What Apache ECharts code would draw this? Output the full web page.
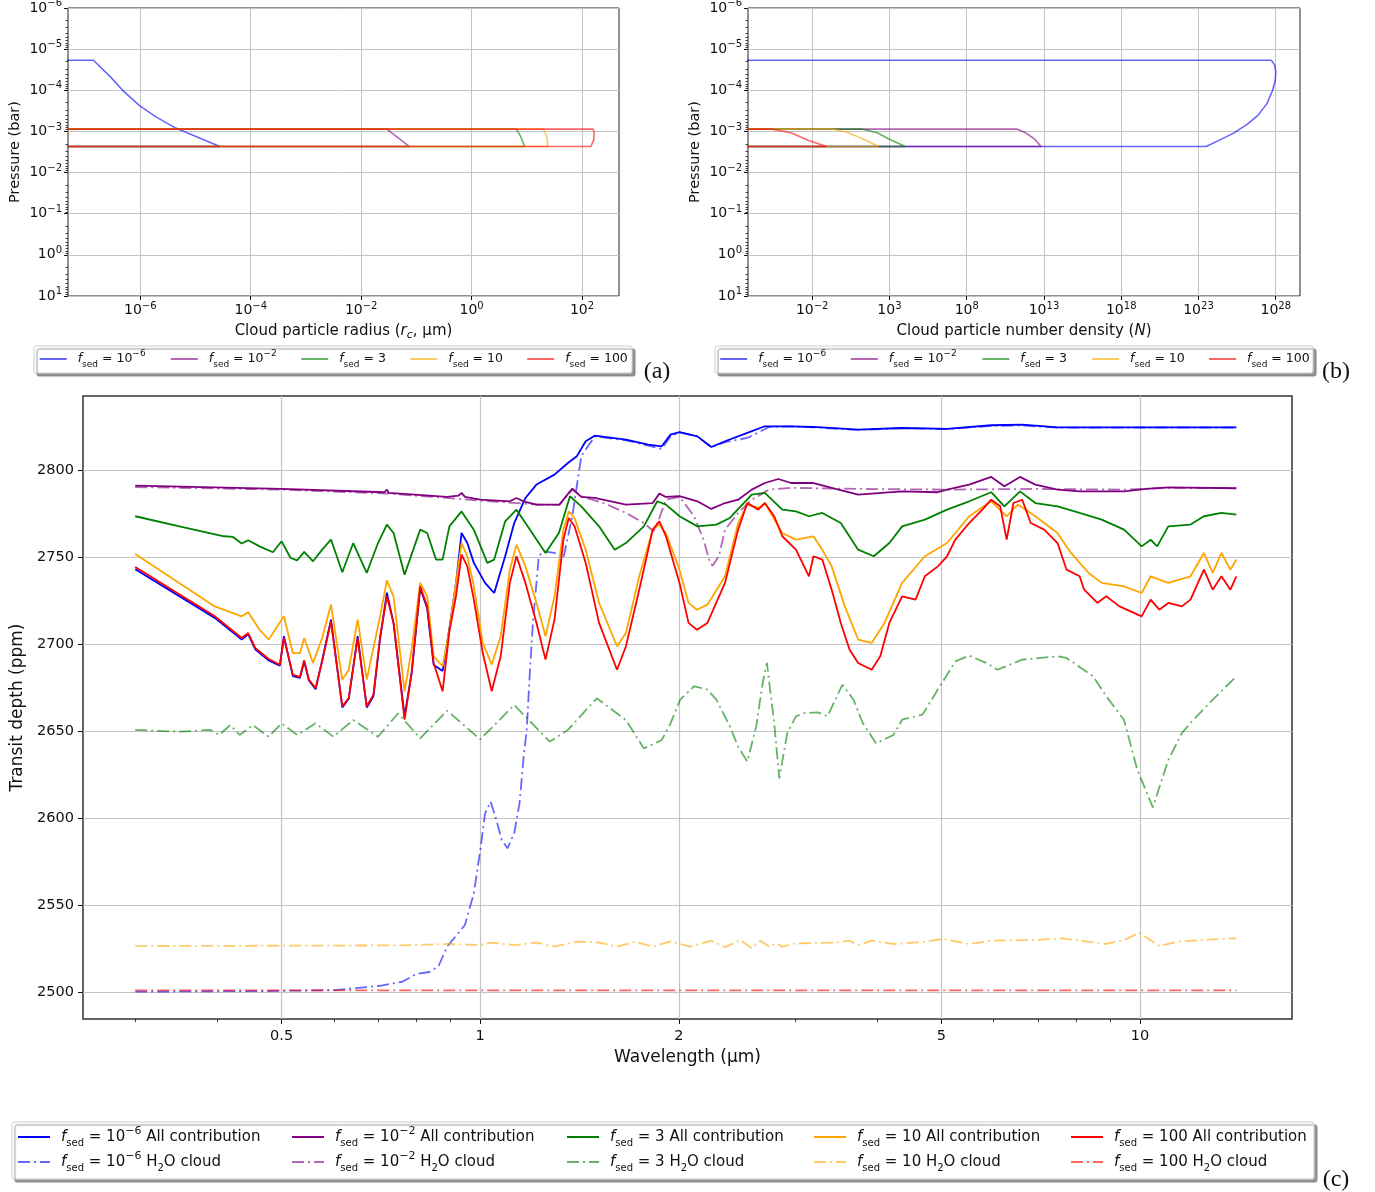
<!DOCTYPE html>
<html>
<head>
<meta charset="utf-8">
<title>Cloud profiles and transmission spectra</title>
<script src="https://cdn.jsdelivr.net/npm/echarts@6/dist/echarts.min.js"></script>
<style>
  html, body { margin: 0; padding: 0; background: #ffffff; }
  #chart { width: 1375px; height: 1192px; }
</style>
</head>
<body>
<div id="chart"></div>
<script>
// ---------------------------------------------------------------------------
// Settling efficiencies shown in every panel
// ---------------------------------------------------------------------------
const fsedPlain = ['10^-6', '10^-2', '3', '10', '100'];
const fsedRich  = ['10{sup|−6}', '10{sup|−2}', '3', '10', '100'];

// "No cloud" value: sits left of both profile axes
const NO_CLOUD = 1e-9;

// (a) cloud particle radius [µm, bar]
const radius_1em6 = [[NO_CLOUD, 1.86e-5], [1.41e-7, 1.86e-5], [2.88e-7, 4.72e-5], [4.79e-7, 1.0e-4], [9.55e-7, 2.32e-4], [1.86e-6, 4.31e-4], [4.37e-6, 8.29e-4], [1.02e-5, 1.32e-3], [2.75e-5, 2.32e-3], [NO_CLOUD, 2.32e-3]];
const radius_1em2 = [[NO_CLOUD, 8.77e-4], [0.0292, 8.77e-4], [0.0741, 2.32e-3], [NO_CLOUD, 2.32e-3]];
const radius_3    = [[NO_CLOUD, 8.77e-4], [6.46, 8.77e-4], [7.55, 1.25e-3], [8.3, 1.66e-3], [9.12, 2.32e-3], [NO_CLOUD, 2.32e-3]];
const radius_10   = [[NO_CLOUD, 8.77e-4], [20.0, 8.77e-4], [23.2, 1.38e-3], [24.0, 2.32e-3], [NO_CLOUD, 2.32e-3]];
const radius_100  = [[NO_CLOUD, 8.77e-4], [158, 8.77e-4], [166, 1.05e-3], [163, 1.6e-3], [145, 2.32e-3], [NO_CLOUD, 2.32e-3]];

// (b) cloud particle number density [N, bar]
const density_1em6 = [[NO_CLOUD, 1.86e-5], [5.13e27, 1.86e-5], [8.71e27, 2.45e-5], [1.0e28, 3.55e-5], [9.33e27, 5.69e-5], [6.31e27, 1.0e-4], [2.69e27, 2.11e-4], [7.08e26, 4.07e-4], [1.38e26, 6.76e-4], [1.91e25, 1.10e-3], [2.63e24, 1.58e-3], [3.16e23, 2.32e-3], [NO_CLOUD, 2.32e-3]];
const density_1em2 = [[NO_CLOUD, 8.77e-4], [1.74e11, 8.77e-4], [6.5e11, 1.08e-3], [2.4e12, 1.51e-3], [6.5e12, 2.32e-3], [NO_CLOUD, 2.32e-3]];
const density_3    = [[NO_CLOUD, 8.77e-4], [16, 8.77e-4], [162, 1.08e-3], [851, 1.51e-3], [1.05e4, 2.32e-3], [NO_CLOUD, 2.32e-3]];
const density_10   = [[NO_CLOUD, 8.77e-4], [0.224, 8.77e-4], [2.24, 1.08e-3], [31.6, 1.66e-3], [200, 2.32e-3], [NO_CLOUD, 2.32e-3]];
const density_100  = [[NO_CLOUD, 8.77e-4], [2.19e-5, 8.77e-4], [4.17e-4, 1.08e-3], [5.9e-3, 1.66e-3], [0.083, 2.32e-3], [NO_CLOUD, 2.32e-3]];

// (c) transit depth [wavelength µm, ppm]
const all_1em6 = [[0.30,2743.0],[0.396,2715.0],[0.435,2702.5],[0.445,2705.5],[0.456,2697.0],[0.478,2690.5],[0.497,2687.5],[0.504,2704.5],[0.520,2681.5],[0.533,2680.5],[0.541,2690.0],[0.550,2679.0],[0.563,2674.0],[0.576,2690.5],[0.594,2714.0],[0.618,2663.5],[0.632,2668.5],[0.652,2704.5],[0.673,2663.5],[0.689,2670.0],[0.705,2703.0],[0.722,2729.5],[0.739,2712.0],[0.768,2658.5],[0.787,2683.0],[0.811,2732.0],[0.831,2720.5],[0.850,2688.0],[0.877,2684.5],[0.898,2709.0],[0.919,2735.0],[0.937,2763.8],[0.956,2758.0],[0.978,2746.6],[1.017,2735.1],[1.050,2729.3],[1.091,2750.4],[1.126,2769.5],[1.171,2783.9],[1.217,2791.6],[1.296,2797.3],[1.358,2804.0],[1.401,2807.9],[1.445,2816.5],[1.491,2819.7],[1.663,2817.4],[1.798,2814.6],[1.884,2813.6],[1.943,2820.3],[2.005,2821.8],[2.134,2819.3],[2.24,2813.2],[2.35,2816.5],[2.54,2821.3],[2.70,2825.1],[2.96,2825.1],[3.20,2824.7],[3.74,2823.2],[4.36,2824.1],[5.10,2823.6],[5.95,2825.7],[6.63,2826.1],[7.50,2824.5],[9.46,2824.5],[14.0,2824.5]];
const cloud_1em6 = [[0.30,2500.2],[0.478,2500.6],[0.603,2501.1],[0.705,2503.6],[0.762,2505.9],[0.799,2510.3],[0.837,2511.5],[0.864,2514.6],[0.891,2526.1],[0.948,2538.5],[0.978,2556.7],[1.002,2583.5],[1.017,2602.7],[1.037,2609.4],[1.058,2598.9],[1.078,2587.4],[1.100,2582.6],[1.126,2591.2],[1.147,2608.4],[1.165,2637.2],[1.176,2650.0],[1.189,2683.3],[1.202,2712.1],[1.227,2750.4],[1.246,2753.3],[1.296,2752.3],[1.337,2749.4],[1.379,2773.4],[1.423,2807.9],[1.491,2819.3],[1.663,2817.0],[1.798,2814.0],[1.884,2812.1],[1.943,2819.3],[2.005,2821.6],[2.134,2819.3],[2.24,2813.0],[2.35,2816.0],[2.54,2818.4],[2.66,2822.2],[2.74,2824.7],[2.96,2825.0],[3.20,2824.5],[3.74,2823.0],[4.36,2824.0],[5.10,2823.5],[5.95,2825.3],[6.63,2825.6],[7.50,2824.3],[9.46,2824.4],[14.0,2824.4]];
const all_1em2 = [[0.30,2791.0],[0.50,2789.1],[0.716,2787.2],[0.722,2788.7],[0.727,2786.8],[0.891,2784.5],[0.927,2785.2],[0.937,2786.8],[0.948,2784.5],[1.0,2782.9],[1.109,2782.0],[1.135,2783.9],[1.162,2782.0],[1.217,2780.1],[1.318,2780.1],[1.379,2789.3],[1.423,2784.5],[1.491,2783.9],[1.663,2780.1],[1.826,2781.0],[1.869,2786.4],[1.912,2784.5],[2.005,2784.9],[2.134,2782.0],[2.24,2777.6],[2.35,2781.0],[2.46,2782.9],[2.58,2788.7],[2.70,2792.5],[2.83,2794.8],[2.96,2792.5],[3.20,2792.5],[3.41,2789.7],[3.74,2785.8],[4.36,2787.7],[4.94,2787.2],[5.10,2788.7],[5.51,2791.6],[5.95,2796.0],[6.23,2790.6],[6.58,2796.0],[6.94,2791.6],[7.50,2788.7],[8.10,2787.7],[9.46,2787.7],[10.22,2789.1],[11.04,2790.0],[14.0,2789.5]];
const cloud_1em2 = [[0.30,2790.2],[0.50,2788.7],[0.727,2786.4],[0.891,2783.9],[1.0,2782.4],[1.217,2780.1],[1.318,2779.9],[1.379,2788.7],[1.423,2784.9],[1.538,2781.0],[1.663,2775.3],[1.770,2769.5],[1.832,2764.8],[1.869,2772.4],[1.912,2782.9],[2.005,2784.5],[2.11,2773.4],[2.18,2760.0],[2.23,2746.6],[2.25,2745.0],[2.30,2750.4],[2.35,2765.7],[2.46,2775.3],[2.58,2782.9],[2.74,2788.7],[2.96,2789.7],[3.74,2789.1],[5.10,2788.7],[6.94,2789.1],[9.46,2788.7],[11.04,2789.7],[14.0,2789.5]];
const all_3 = [[0.30,2773.4],[0.350,2767.6],[0.409,2761.9],[0.422,2761.5],[0.435,2757.7],[0.445,2759.6],[0.463,2756.1],[0.485,2752.7],[0.500,2759.0],[0.516,2749.4],[0.528,2748.1],[0.541,2752.9],[0.558,2747.5],[0.576,2754.2],[0.594,2760.0],[0.618,2741.2],[0.642,2758.0],[0.673,2740.8],[0.700,2758.0],[0.722,2768.6],[0.739,2763.8],[0.768,2739.8],[0.811,2765.7],[0.831,2763.8],[0.857,2748.5],[0.877,2748.5],[0.898,2767.6],[0.937,2776.2],[0.978,2765.7],[1.025,2746.6],[1.050,2748.5],[1.091,2770.5],[1.135,2777.2],[1.180,2767.6],[1.256,2752.3],[1.316,2763.8],[1.368,2784.9],[1.423,2779.1],[1.514,2767.6],[1.599,2754.2],[1.663,2758.0],[1.770,2767.6],[1.855,2782.0],[1.912,2780.1],[2.005,2773.4],[2.134,2767.6],[2.28,2768.6],[2.39,2772.4],[2.58,2785.8],[2.70,2786.8],[2.87,2777.2],[3.01,2776.2],[3.15,2773.4],[3.30,2775.3],[3.52,2769.5],[3.74,2754.2],[3.95,2750.4],[4.17,2758.0],[4.36,2767.6],[4.72,2771.5],[5.10,2777.2],[5.51,2782.0],[5.95,2787.2],[6.23,2779.1],[6.58,2787.7],[6.94,2781.0],[7.50,2779.1],[8.10,2775.3],[8.75,2771.5],[9.46,2765.7],[10.06,2756.1],[10.38,2759.9],[10.62,2756.1],[11.04,2767.6],[11.93,2768.6],[12.50,2773.4],[13.29,2775.3],[14.0,2774.3]];
const cloud_3 = [[0.30,2650.6],[0.350,2649.6],[0.390,2650.6],[0.402,2647.7],[0.418,2653.4],[0.432,2647.7],[0.452,2653.4],[0.478,2646.7],[0.500,2654.4],[0.528,2647.7],[0.563,2654.4],[0.599,2646.7],[0.642,2656.3],[0.700,2646.7],[0.751,2660.2],[0.811,2645.8],[0.891,2661.7],[1.000,2645.2],[1.126,2664.9],[1.275,2643.9],[1.358,2650.6],[1.502,2668.8],[1.663,2656.3],[1.770,2640.0],[1.884,2644.8],[1.943,2654.4],[2.01,2668.0],[2.11,2675.7],[2.21,2673.8],[2.28,2668.0],[2.39,2652.7],[2.46,2641.0],[2.54,2632.4],[2.62,2652.5],[2.68,2677.6],[2.72,2689.1],[2.79,2654.6],[2.84,2622.8],[2.92,2648.7],[3.01,2658.4],[3.10,2660.3],[3.25,2660.7],[3.36,2658.4],[3.54,2676.6],[3.68,2668.0],[3.80,2654.6],[3.98,2642.9],[4.23,2647.7],[4.36,2656.5],[4.68,2659.4],[4.94,2673.8],[5.25,2690.0],[5.51,2693.3],[5.85,2689.1],[6.08,2685.2],[6.63,2691.0],[7.50,2692.9],[7.74,2692.0],[8.49,2681.4],[8.89,2670.0],[9.46,2656.3],[9.91,2627.6],[10.46,2606.1],[11.04,2633.3],[11.57,2648.7],[11.93,2654.6],[12.89,2668.0],[14.0,2681.4]];
const all_10 = [[0.30,2751.7],[0.396,2721.6],[0.435,2715.9],[0.445,2718.2],[0.463,2708.2],[0.478,2702.5],[0.504,2715.9],[0.520,2694.8],[0.533,2694.8],[0.541,2703.4],[0.558,2689.1],[0.576,2703.4],[0.594,2722.6],[0.618,2679.5],[0.632,2685.2],[0.652,2714.0],[0.673,2679.5],[0.705,2715.9],[0.722,2736.6],[0.739,2727.4],[0.768,2672.8],[0.787,2696.7],[0.811,2735.1],[0.831,2727.4],[0.850,2692.9],[0.877,2687.2],[0.898,2708.2],[0.937,2758.0],[0.956,2750.4],[0.978,2733.1],[1.009,2700.6],[1.041,2688.1],[1.074,2704.4],[1.109,2742.7],[1.135,2757.1],[1.171,2744.6],[1.217,2723.6],[1.256,2704.4],[1.296,2727.4],[1.337,2765.7],[1.362,2776.2],[1.390,2772.4],[1.445,2754.2],[1.514,2723.6],[1.612,2698.7],[1.663,2706.3],[1.742,2738.9],[1.826,2765.7],[1.869,2768.6],[1.912,2763.8],[2.005,2742.7],[2.069,2723.6],[2.13,2719.7],[2.21,2722.6],[2.35,2738.9],[2.46,2769.5],[2.54,2780.1],[2.64,2778.2],[2.70,2781.0],[2.87,2763.8],[3.01,2760.0],[3.20,2761.9],[3.30,2754.2],[3.41,2744.6],[3.57,2721.6],[3.74,2702.5],[3.92,2700.6],[4.10,2712.1],[4.36,2735.1],[4.72,2750.4],[5.10,2758.0],[5.51,2773.4],[5.95,2782.0],[6.28,2773.4],[6.53,2780.1],[6.94,2773.4],[7.50,2763.8],[7.86,2752.3],[8.36,2740.8],[8.75,2735.1],[9.46,2733.1],[10.06,2729.3],[10.38,2738.9],[11.04,2735.1],[11.93,2738.9],[12.50,2752.3],[12.89,2740.8],[13.29,2752.3],[13.71,2742.7],[14.0,2748.5]];
const cloud_10 = [[0.30,2526.4],[0.478,2526.6],[0.762,2526.8],[0.891,2527.6],[1.0,2527.0],[1.041,2528.4],[1.126,2527.0],[1.217,2528.4],[1.296,2526.1],[1.401,2529.0],[1.514,2528.4],[1.612,2526.1],[1.716,2529.0],[1.826,2526.1],[1.943,2529.1],[2.08,2526.1],[2.24,2529.5],[2.35,2525.7],[2.48,2529.9],[2.58,2525.1],[2.66,2529.5],[2.74,2526.1],[2.81,2528.0],[2.87,2526.1],[3.01,2528.0],[3.46,2528.4],[3.63,2529.5],[3.74,2527.0],[3.92,2529.5],[4.23,2527.6],[4.72,2528.9],[5.02,2530.5],[5.51,2527.6],[5.95,2529.5],[6.94,2529.9],[7.62,2530.8],[8.89,2527.6],[9.46,2529.9],[9.98,2534.1],[10.70,2526.4],[11.39,2528.9],[12.89,2530.3],[14.0,2530.8]];
const all_100 = [[0.30,2744.3],[0.396,2715.9],[0.435,2703.4],[0.445,2706.3],[0.456,2697.7],[0.478,2691.4],[0.497,2688.1],[0.504,2703.4],[0.520,2682.4],[0.533,2681.0],[0.541,2690.6],[0.550,2679.5],[0.563,2674.7],[0.576,2690.0],[0.594,2713.0],[0.618,2664.2],[0.632,2669.0],[0.652,2703.4],[0.673,2664.2],[0.689,2670.9],[0.705,2704.0],[0.722,2727.4],[0.739,2712.1],[0.768,2656.5],[0.787,2683.3],[0.811,2733.1],[0.831,2721.6],[0.850,2689.1],[0.877,2672.8],[0.898,2707.3],[0.919,2727.4],[0.937,2751.3],[0.956,2744.6],[0.978,2725.5],[1.009,2694.8],[1.041,2672.8],[1.074,2692.9],[1.109,2735.1],[1.135,2750.4],[1.171,2735.1],[1.217,2712.1],[1.256,2691.0],[1.296,2714.0],[1.337,2760.0],[1.362,2772.4],[1.390,2767.6],[1.445,2746.6],[1.514,2712.1],[1.612,2685.2],[1.663,2698.7],[1.742,2731.2],[1.826,2765.7],[1.869,2770.5],[1.912,2761.9],[2.005,2735.1],[2.069,2712.1],[2.13,2708.2],[2.21,2712.1],[2.35,2735.1],[2.46,2765.7],[2.54,2781.0],[2.64,2777.2],[2.70,2781.0],[2.79,2773.4],[2.87,2761.9],[3.01,2754.2],[3.15,2738.9],[3.20,2750.4],[3.30,2748.5],[3.41,2731.2],[3.52,2712.1],[3.63,2696.7],[3.74,2689.1],[3.92,2685.2],[4.04,2692.9],[4.17,2712.1],[4.36,2727.4],[4.57,2725.5],[4.72,2738.9],[4.94,2744.6],[5.10,2750.4],[5.25,2760.0],[5.51,2769.5],[5.77,2777.2],[5.95,2782.9],[6.14,2779.1],[6.28,2760.0],[6.43,2781.0],[6.63,2782.9],[6.83,2769.5],[7.16,2765.7],[7.50,2758.0],[7.74,2742.7],[8.10,2738.9],[8.23,2731.2],[8.62,2723.6],[8.89,2727.4],[9.31,2721.6],[10.06,2715.9],[10.38,2725.5],[10.70,2719.7],[11.04,2723.6],[11.57,2721.6],[11.93,2725.5],[12.50,2742.7],[12.89,2731.2],[13.29,2738.9],[13.71,2731.2],[14.0,2738.9]];
const cloud_100 = [[0.30,2500.9],[14.0,2500.9]];

const radiusProfiles  = [radius_1em6, radius_1em2, radius_3, radius_10, radius_100];
const densityProfiles = [density_1em6, density_1em2, density_3, density_10, density_100];
const spectraAll   = [all_1em6, all_1em2, all_3, all_10, all_100];
const spectraCloud = [cloud_1em6, cloud_1em2, cloud_3, cloud_10, cloud_100];

// Tick positions
const pressureTicks   = [1e-6, 1e-5, 1e-4, 1e-3, 1e-2, 1e-1, 1, 10];
const radiusTicks     = [1e-6, 1e-4, 1e-2, 1, 100];
const densityTicks    = [1e-2, 1e3, 1e8, 1e13, 1e18, 1e23, 1e28];
const wavelengthTicks = [0.5, 1, 2, 5, 10];
const wavelengthMinorTicks = [0.3, 0.4, 0.6, 0.7, 0.8, 0.9, 3, 4, 6, 7, 8, 9];
const depthTicks      = [2500, 2550, 2600, 2650, 2700, 2750, 2800];
const pressureMinorTicks = [];
for (let e = -6; e < 1; e++) for (let m = 2; m <= 9; m++) pressureMinorTicks.push(m * Math.pow(10, e));

// ---------------------------------------------------------------------------
// Styling
// ---------------------------------------------------------------------------
const FONT = 'DejaVu Sans';
const INK = '#111111';
const GRIDLINE = '#c4c4c4';
const solidColors = ['#0000ff', '#800080', '#008000', '#ffa500', '#ff0000'];
const fadedColors = ['rgba(0,0,255,0.6)', 'rgba(128,0,128,0.6)', 'rgba(0,128,0,0.6)', 'rgba(255,165,0,0.6)', 'rgba(255,0,0,0.6)'];
const DASH_DOT = [12, 4, 2, 4];

const profileName = k => 'fsed = ' + fsedPlain[k];
const allName     = k => 'fsed = ' + fsedPlain[k] + ' All contribution';
const cloudName   = k => 'fsed = ' + fsedPlain[k] + ' H2O cloud';

const legendText = {};
fsedPlain.forEach((p, k) => {
  legendText[profileName(k)] = '{i|f}{sub|sed} = ' + fsedRich[k];
  legendText[allName(k)]     = '{i|f}{sub|sed} = ' + fsedRich[k] + ' All contribution';
  legendText[cloudName(k)]   = '{i|f}{sub|sed} = ' + fsedRich[k] + ' H{sub|2}O cloud';
});

function richSet(fs, lh) {
  return {
    i:   { fontFamily: FONT, fontSize: fs, fontStyle: 'italic', color: INK, lineHeight: lh },
    sub: { fontFamily: FONT, fontSize: Math.round(fs * 0.68), color: INK, verticalAlign: 'bottom' },
    sup: { fontFamily: FONT, fontSize: Math.round(fs * 0.7), color: INK, verticalAlign: 'top' },
    isub: { fontFamily: FONT, fontSize: Math.round(fs * 0.7), fontStyle: 'italic', color: INK, verticalAlign: 'bottom' }
  };
}

function pow10Label(v) {
  const e = Math.round(Math.log10(v));
  return '10{sup|' + (e < 0 ? '−' : '') + Math.abs(e) + '}';
}

// ---------------------------------------------------------------------------
// Axes
// ---------------------------------------------------------------------------
function profileYAxis(gridIndex) {
  return [{
    type: 'log', gridIndex, inverse: true, min: 1e-6, max: 10,
    axisLine: { show: false },
    axisTick: { show: true, length: 4, customValues: pressureTicks, lineStyle: { color: INK, width: 1 } },
    axisLabel: {
      customValues: pressureTicks, formatter: pow10Label, margin: 6,
      fontFamily: FONT, fontSize: 14, color: INK, lineHeight: 19, rich: richSet(14, 19)
    },
    splitLine: { show: true, lineStyle: { color: GRIDLINE, width: 1 } },
    name: 'Pressure (bar)', nameLocation: 'middle', nameGap: 45,
    nameTextStyle: { fontFamily: FONT, fontSize: 14.5, color: INK }
  }, {
    type: 'log', gridIndex, inverse: true, min: 1e-6, max: 10, position: 'left',
    axisLine: { show: false },
    axisTick: { show: true, length: 2.5, customValues: pressureMinorTicks, lineStyle: { color: INK, width: 0.8 } },
    axisLabel: { show: false },
    splitLine: { show: false }
  }];
}

const xAxes = [
  {
    type: 'log', gridIndex: 0, min: Math.pow(10, -7.31), max: Math.pow(10, 2.67),
    axisLine: { show: false },
    axisTick: { show: true, length: 4, customValues: radiusTicks, lineStyle: { color: INK, width: 1 } },
    axisLabel: {
      customValues: radiusTicks, formatter: pow10Label, margin: 5,
      fontFamily: FONT, fontSize: 14, color: INK, lineHeight: 19, rich: richSet(14, 19)
    },
    splitLine: { show: true, lineStyle: { color: GRIDLINE, width: 1 } },
    name: 'Cloud particle radius ({i|r}{isub|c}, µm)', nameLocation: 'middle', nameGap: 24,
    nameTextStyle: { fontFamily: FONT, fontSize: 15, color: INK, lineHeight: 20, rich: richSet(15, 20) }
  },
  {
    type: 'log', gridIndex: 1, min: Math.pow(10, -6.155), max: Math.pow(10, 29.57),
    axisLine: { show: false },
    axisTick: { show: true, length: 4, customValues: densityTicks, lineStyle: { color: INK, width: 1 } },
    axisLabel: {
      customValues: densityTicks, formatter: pow10Label, margin: 5,
      fontFamily: FONT, fontSize: 14, color: INK, lineHeight: 19, rich: richSet(14, 19)
    },
    splitLine: { show: true, lineStyle: { color: GRIDLINE, width: 1 } },
    name: 'Cloud particle number density ({i|N})', nameLocation: 'middle', nameGap: 24,
    nameTextStyle: { fontFamily: FONT, fontSize: 15, color: INK, lineHeight: 20, rich: richSet(15, 20) }
  },
  {
    type: 'log', gridIndex: 2, min: 0.25, max: 17.0, position: 'bottom',
    axisLine: { show: false },
    axisTick: { show: true, length: 5, customValues: wavelengthTicks, lineStyle: { color: INK, width: 1 } },
    axisLabel: {
      customValues: wavelengthTicks, margin: 10,
      formatter: v => String(+(+v).toPrecision(3)),
      fontFamily: FONT, fontSize: 14.5, color: INK
    },
    splitLine: { show: true, lineStyle: { color: GRIDLINE, width: 1.2 } },
    name: 'Wavelength (µm)', nameLocation: 'middle', nameGap: 30,
    nameTextStyle: { fontFamily: FONT, fontSize: 17, color: INK }
  },
  {
    type: 'log', gridIndex: 2, min: 0.25, max: 17.0, position: 'bottom',
    axisLine: { show: false },
    axisTick: { show: true, length: 3, customValues: wavelengthMinorTicks, lineStyle: { color: INK, width: 0.8 } },
    axisLabel: { show: false },
    splitLine: { show: false }
  }
];

const yAxes = [
  ...profileYAxis(0),
  ...profileYAxis(1),
  {
    type: 'value', gridIndex: 2, min: 2484.5, max: 2842.5,
    axisLine: { show: false },
    axisTick: { show: true, length: 5, customValues: depthTicks, lineStyle: { color: INK, width: 1 } },
    axisLabel: {
      customValues: depthTicks, margin: 9, formatter: v => String(Math.round(v)),
      fontFamily: FONT, fontSize: 14.5, color: INK
    },
    splitLine: { show: true, lineStyle: { color: GRIDLINE, width: 1.2 } },
    name: 'Transit depth (ppm)', nameLocation: 'middle', nameGap: 56,
    nameTextStyle: { fontFamily: FONT, fontSize: 17, color: INK }
  }
];

// ---------------------------------------------------------------------------
// Series
// ---------------------------------------------------------------------------
const series = [];
radiusProfiles.forEach((d, k) => series.push({
  type: 'line', name: profileName(k), xAxisIndex: 0, yAxisIndex: 0, data: d,
  symbol: 'none', showSymbol: false, clip: true, color: fadedColors[k],
  lineStyle: { color: fadedColors[k], width: 1.6 }, z: 2 + k
}));
densityProfiles.forEach((d, k) => series.push({
  type: 'line', name: profileName(k), xAxisIndex: 1, yAxisIndex: 2, data: d,
  symbol: 'none', showSymbol: false, clip: true, color: fadedColors[k],
  lineStyle: { color: fadedColors[k], width: 1.6 }, z: 2 + k
}));
spectraAll.forEach((d, k) => {
  series.push({
    type: 'line', name: allName(k), xAxisIndex: 2, yAxisIndex: 4, data: d,
    symbol: 'none', showSymbol: false, clip: true, color: solidColors[k],
    lineStyle: { color: solidColors[k], width: 1.8 }, z: 2 + 2 * k
  });
  series.push({
    type: 'line', name: cloudName(k), xAxisIndex: 2, yAxisIndex: 4, data: spectraCloud[k],
    symbol: 'none', showSymbol: false, clip: true, color: fadedColors[k],
    lineStyle: { color: fadedColors[k], width: 1.8, type: DASH_DOT }, z: 3 + 2 * k
  });
});

// ---------------------------------------------------------------------------
// Legends: one per column so the columns line up
// ---------------------------------------------------------------------------
function legendBlock(left, top, names, opts) {
  return {
    left, top, orient: 'vertical', padding: 0, itemGap: opts.gap,
    itemWidth: opts.iw, itemHeight: 12, selectedMode: false,
    itemStyle: { opacity: 0, borderWidth: 0 },
    data: names,
    formatter: n => legendText[n],
    textStyle: {
      fontFamily: FONT, fontSize: opts.fs, color: INK, lineHeight: opts.lh,
      padding: [0, 0, 0, opts.pad], rich: richSet(opts.fs, opts.lh)
    }
  };
}
const legends = [];
const smallLegend = { fs: 12.5, lh: 20, iw: 27, pad: 6, gap: 0 };
[38.7, 169.8, 300.2, 409.3, 526.2].forEach((x, k) => legends.push(legendBlock(x, 349, [profileName(k)], smallLegend)));
[719.2, 849.8, 981.3, 1091.1, 1208.0].forEach((x, k) => legends.push(legendBlock(x, 349, [profileName(k)], smallLegend)));
const bigLegend = { fs: 15, lh: 22, iw: 32, pad: 6, gap: 3 };
[17, 291, 566, 813, 1070].forEach((x, k) => legends.push(legendBlock(x, 1126, [allName(k), cloudName(k)], bigLegend)));

// Legend frames and panel tags
function frame(x, y, w, h) {
  return {
    type: 'rect', z: 3, shape: { x, y, width: w, height: h, r: 2 },
    style: { fill: '#ffffff', stroke: '#cfcfcf', lineWidth: 1,
             shadowColor: 'rgba(0,0,0,0.4)', shadowOffsetX: 3, shadowOffsetY: 3, shadowBlur: 1 }
  };
}
function tag(text, x, y) {
  return {
    type: 'text', z: 5, x, y,
    style: { text, fontFamily: 'Liberation Serif', fontSize: 24, fill: INK, textAlign: 'center', textVerticalAlign: 'middle' }
  };
}

const option = {
  backgroundColor: '#ffffff',
  animation: false,
  grid: [
    { left: 68, top: 8, width: 551, height: 288, show: true, borderColor: '#222', borderWidth: 1, backgroundColor: 'transparent', containLabel: false, outerBoundsMode: 'none' },
    { left: 748, top: 8, width: 552, height: 288, show: true, borderColor: '#222', borderWidth: 1, backgroundColor: 'transparent', containLabel: false, outerBoundsMode: 'none' },
    { left: 83, top: 396, width: 1209, height: 623, show: true, borderColor: '#333', borderWidth: 1.5, backgroundColor: 'transparent', containLabel: false, outerBoundsMode: 'none' }
  ],
  xAxis: xAxes,
  yAxis: yAxes,
  legend: legends,
  series,
  graphic: [
    frame(34, 346, 598, 27),
    frame(715, 346, 598, 27),
    frame(12, 1122, 1302, 57),
    tag('(a)', 657, 372),
    tag('(b)', 1336, 372),
    tag('(c)', 1336, 1180)
  ]
};

const chart = echarts.init(document.getElementById('chart'), null, { renderer: 'canvas', width: 1375, height: 1192 });
chart.setOption(option);
</script>
</body>
</html>
